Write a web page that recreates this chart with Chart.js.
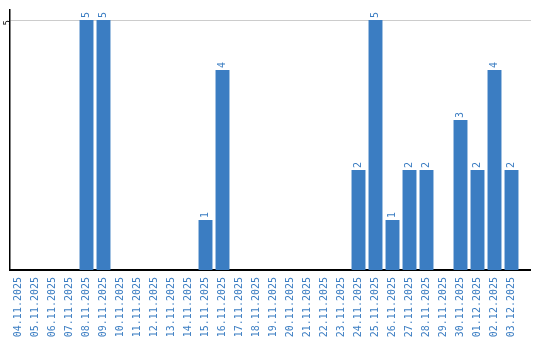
<!DOCTYPE html>
<html>
<head>
<meta charset="utf-8">
<script src="https://cdn.jsdelivr.net/npm/chart.js@4/dist/chart.umd.min.js"></script>
<style>
  body { margin: 0; background: #fff; }
  #wrap { width: 540px; height: 340px; }
</style>
</head>
<body>
<div id="wrap"><canvas id="chart" width="540" height="340"></canvas></div>
<script>
// dates on the x axis
const dates = ['04.11.2025', '05.11.2025', '06.11.2025', '07.11.2025', '08.11.2025', '09.11.2025',
    '10.11.2025', '11.11.2025', '12.11.2025', '13.11.2025', '14.11.2025', '15.11.2025',
    '16.11.2025', '17.11.2025', '18.11.2025', '19.11.2025', '20.11.2025', '21.11.2025',
    '22.11.2025', '23.11.2025', '24.11.2025', '25.11.2025', '26.11.2025', '27.11.2025',
    '28.11.2025', '29.11.2025', '30.11.2025', '01.12.2025', '02.12.2025', '03.12.2025'];

// count per day (null = no bar)
const counts = [null, null, null, null, 5, 5,
    null, null, null, null, null, 1,
    4, null, null, null, null, null,
    null, null, 2, 5, 1, 2,
    2, null, 3, 2, 4, 2];

const yTicks = [5];

const blue = '#3b7dc2';
const monoFont = '"DejaVu Sans Mono"';

// value labels above the bars, rotated like the axis labels
const barLabels = {
    id: 'barLabels',
    afterDatasetsDraw(chart) {
        const ctx = chart.ctx;
        const meta = chart.getDatasetMeta(0);
        ctx.save();
        ctx.fillStyle = blue;
        ctx.font = '10px ' + monoFont;
        ctx.textAlign = 'left';
        ctx.textBaseline = 'middle';
        meta.data.forEach((bar, i) => {
            if (counts[i] == null) return;
            ctx.save();
            ctx.translate(bar.x, bar.y - 2);
            ctx.rotate(-Math.PI / 2);
            ctx.fillText(String(counts[i]), 0, 0);
            ctx.restore();
        });
        ctx.restore();
    }
};

// grid and axis run a little past the last bar
const extendLines = {
    id: 'extendLines',
    afterDraw(chart) {
        const ctx = chart.ctx;
        const area = chart.chartArea;
        const y = chart.scales.y;
        ctx.save();
        ctx.lineWidth = 1;
        ctx.strokeStyle = '#cccccc';
        let y5 = Math.round(y.getPixelForValue(5)) + 0.5;
        ctx.beginPath();
        ctx.moveTo(area.right, y5);
        ctx.lineTo(area.right + 11, y5);
        ctx.stroke();
        ctx.strokeStyle = '#000';
        ctx.lineWidth = 2;
        let y0 = y.getPixelForValue(0);
        ctx.beginPath();
        ctx.moveTo(area.right - 1, y0);
        ctx.lineTo(area.right + 11, y0);
        ctx.stroke();
        ctx.restore();
    }
};

new Chart(document.getElementById('chart'), {
    type: 'bar',
    data: {
        labels: dates,
        datasets: [{
            data: counts,
            backgroundColor: blue,
            categoryPercentage: 1,
            barPercentage: 0.82
        }]
    },
    options: {
        responsive: false,
        animation: false,
        layout: { padding: { top: 10, right: 20, left: 0, bottom: 0 } },
        plugins: { legend: { display: false }, tooltip: { enabled: false } },
        scales: {
            x: {
                afterFit: (s) => { s.height = 70; },
                grid: { display: false, drawTicks: false },
                border: { display: true, color: '#000', width: 2 },
                ticks: {
                    color: blue,
                    font: { family: 'DejaVu Sans Mono', size: 10 },
                    minRotation: 90,
                    maxRotation: 90,
                    autoSkip: false,
                    padding: 7
                }
            },
            y: {
                min: 0,
                max: 5.2,
                afterFit: (s) => { s.width = 10; },
                afterBuildTicks: (scale) => { scale.ticks = yTicks.map(v => ({ value: v })); },
                grid: { color: '#cccccc', drawTicks: false },
                border: { display: true, color: '#000', width: 1.5 },
                ticks: {
                    color: '#000',
                    font: { family: 'DejaVu Sans Mono', size: 9 },
                    minRotation: 90,
                    maxRotation: 90,
                    padding: 2
                }
            }
        }
    },
    plugins: [barLabels, extendLines]
});
</script>
</body>
</html>
